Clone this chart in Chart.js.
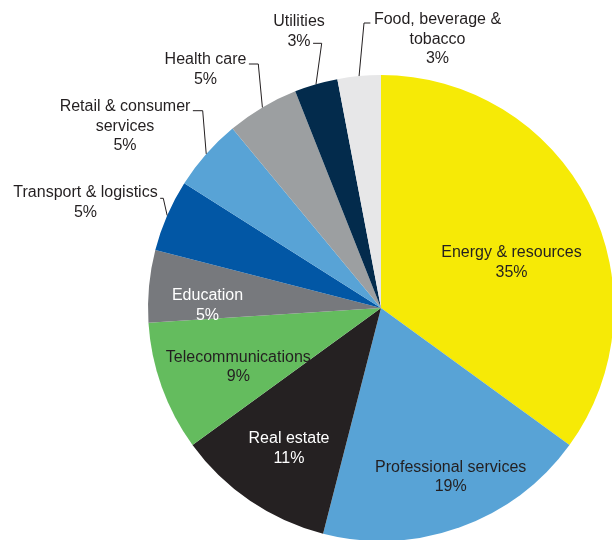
<!DOCTYPE html>
<html>
<head>
<meta charset="utf-8">
<script src="https://cdn.jsdelivr.net/npm/chart.js@4"></script>
<style>
    html, body { margin: 0; padding: 0; background: #fff; overflow: hidden; }
    #wrap { width: 612px; height: 540px; overflow: hidden; position: relative; }
    canvas { position: absolute; left: 0; top: 0; }
</style>
</head>
<body>
<div id="wrap">
    <canvas id="grafico-setores" width="640" height="560"></canvas>
</div>
<script>
// Sector split, clockwise from 12 o'clock
const setores = [
    'Energy & resources',
    'Professional services',
    'Real estate',
    'Telecommunications',
    'Education',
    'Transport & logistics',
    'Retail & consumer services',
    'Health care',
    'Utilities',
    'Food, beverage & tobacco'
];
const percentuais = [35, 19, 11, 9, 5, 5, 5, 5, 3, 3];
const cores = ['#F6EA06', '#58A3D6', '#252122', '#64BC5E', '#77797D', '#0257A5', '#58A3D6', '#9C9FA1', '#032B4C', '#E7E7E8'];

// Long names broken over two lines
const quebras = {
    'Retail & consumer services': ['Retail & consumer', 'services'],
    'Food, beverage & tobacco': ['Food, beverage &', 'tobacco']
};

// Label placement, offsets from the pie centre (first baseline)
const rotulos = [
    { dx: 130.5, dy: -51, cor: '#231F20' },
    { dx: 69.7, dy: 163.7, cor: '#231F20' },
    { dx: -92, dy: 135, cor: '#FFFFFF' },
    { dx: -142.7, dy: 53.5, cor: '#231F20' },
    { dx: -173.5, dy: -8, cor: '#FFFFFF' },
    { dx: -295.5, dy: -110.7, cor: '#231F20', cotovelo: [-217.7, -109.7], linha: 0, lado: 'dir' },
    { dx: -256, dy: -197, cor: '#231F20', cotovelo: [-178.3, -197.3], linha: 0, lado: 'dir' },
    { dx: -175.5, dy: -244, cor: '#231F20', cotovelo: [-122.7, -244], linha: 0, lado: 'dir' },
    { dx: -82, dy: -282, cor: '#231F20', cotovelo: [-59.3, -264.7], linha: 1, lado: 'dir' },
    { dx: 56.5, dy: -284, cor: '#231F20', cotovelo: [-17, -285], linha: 0, lado: 'esq' }
];

const FONTE = '16px "Liberation Sans", Arial, sans-serif';
const ALTURA_LINHA = 19.5;

// Draws the category labels and the leader lines for the small slices
const pluginRotulos = {
    id: 'rotulos',
    afterDatasetsDraw(chart) {
        const ctx = chart.ctx;
        const arcos = chart.getDatasetMeta(0).data;
        ctx.save();
        ctx.font = FONTE;
        ctx.textAlign = 'center';
        ctx.textBaseline = 'alphabetic';

        arcos.forEach((arco, i) => {
            const r = rotulos[i];
            const cx = arco.x;
            const cy = arco.y;
            const linhas = (quebras[setores[i]] || [setores[i]]).concat([percentuais[i] + '%']);
            const tx = cx + r.dx;
            const ty = cy + r.dy;

            ctx.fillStyle = r.cor;
            linhas.forEach((texto, k) => {
                ctx.fillText(texto, tx, ty + k * ALTURA_LINHA);
            });

            if (r.cotovelo) {
                const meio = (arco.startAngle + arco.endAngle) / 2;
                const px = cx + Math.cos(meio) * arco.outerRadius;
                const py = cy + Math.sin(meio) * arco.outerRadius;
                const ex = cx + r.cotovelo[0];
                const ey = cy + r.cotovelo[1];
                const largura = ctx.measureText(linhas[r.linha]).width;
                const fimX = r.lado === 'dir' ? tx + largura / 2 + 2.5 : tx - largura / 2 - 3.5;

                ctx.strokeStyle = '#231F20';
                ctx.lineWidth = 1;
                ctx.beginPath();
                ctx.moveTo(px, py);
                ctx.lineTo(ex, ey);
                ctx.lineTo(fimX, ey);
                ctx.stroke();
            }
        });
        ctx.restore();
    }
};

new Chart(document.getElementById('grafico-setores').getContext('2d'), {
    type: 'pie',
    data: {
        labels: setores,
        datasets: [
            {
                data: percentuais,
                backgroundColor: cores,
                borderWidth: 0,
                hoverOffset: 0,
                offset: 0
            }
        ]
    },
    options: {
        responsive: false,
        animation: false,
        events: [],
        layout: {
            padding: { left: 148, top: 75, right: 26, bottom: 19 }
        },
        plugins: {
            legend: { display: false },
            tooltip: { enabled: false }
        }
    },
    plugins: [pluginRotulos]
});
</script>
</body>
</html>
